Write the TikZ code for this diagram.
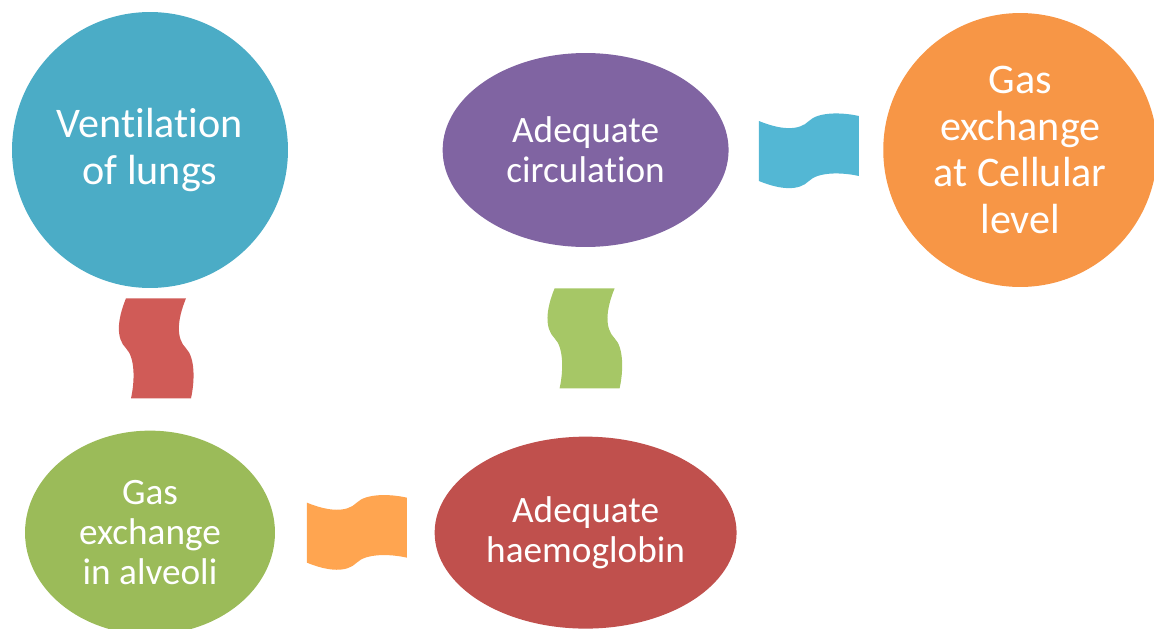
\documentclass[tikz,border=0pt]{standalone}
\usepackage{fontspec}
\setmainfont{Carlito}[Ligatures={NoCommon}]
\usetikzlibrary{positioning,calc,shapes.geometric}

\definecolor{ventblue}{HTML}{4BACC6}
\definecolor{circpurple}{HTML}{8064A2}
\definecolor{cellorange}{HTML}{F79646}
\definecolor{alvgreen}{HTML}{9BBB59}
\definecolor{haemred}{HTML}{C0504D}
\definecolor{ribblue}{HTML}{53B7D4}
\definecolor{ribred}{HTML}{D05B57}
\definecolor{ribgreen}{HTML}{A6C766}
\definecolor{riborange}{HTML}{FFA550}

\tikzset{
bubble/.style={ellipse, inner sep=0pt, text=white, align=center,
  font=\fontsize{21.2pt}{22.8pt}\selectfont},
big/.style={font=\fontsize{24pt}{26.5pt}\selectfont},
pics/ribbon/.style={code={
  \fill [#1] (-50,-29) .. controls (-28,-20) and (-10,-19) .. (0,-29)
    .. controls (9,-38) and (32,-38) .. (50,-34)
    -- (50,26) .. controls (32,22) and (9,22) .. (0,31)
    .. controls (-10,41) and (-28,40) .. (-50,31) -- cycle;
}}
}

\begin{document}
\begin{tikzpicture}[x=0.02cm, y=-0.02cm, node distance=3.08cm]
\useasboundingbox (0,0) rectangle (1154,629);
\node [bubble, big, fill=ventblue, minimum size=5.52cm] (vent) at (150,150) {Ventilation\\of lungs};
\node [bubble, fill=circpurple, minimum width=5.72cm, minimum height=3.88cm, right=of vent] (circ) {Adequate\\circulation};
\node [bubble, big, fill=cellorange, minimum size=5.48cm, right=of circ] (cell) {Gas\\exchange\\at Cellular\\level};
\node [bubble, fill=alvgreen, minimum width=5cm, minimum height=4.08cm, below=2.84cm of vent] (alv) {Gas\\exchange\\in alveoli};
\node [bubble, fill=haemred, minimum width=6.04cm, minimum height=3.84cm, right=3.18cm of alv] (haem) {Adequate\\haemoglobin};

% wavy links
\pic [rotate=-90] at ($(vent)!0.5!(alv)+(7,7)$) {ribbon=ribred};
\pic [rotate=-90] at ($(circ)!0.5!(haem)+(0,-3)$) {ribbon=ribgreen};
\pic at ($(circ)!0.5!(cell)+(6,0)$) {ribbon=ribblue};
\pic at ($(alv)!0.5!(haem)+(-11,-1)$) {ribbon=riborange};
\end{tikzpicture}
\end{document}
